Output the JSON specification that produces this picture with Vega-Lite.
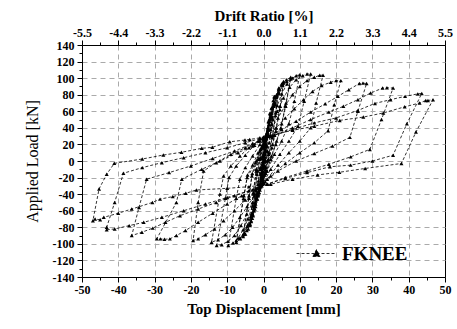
{
  "$schema": "https://vega.github.io/schema/vega-lite/v6.json",
  "width": 363,
  "height": 232,
  "autosize": {"type": "none"},
  "padding": {"left": 82, "top": 45, "right": 12, "bottom": 52},
  "background": "white",
  "config": {
    "view": {"stroke": "black", "strokeWidth": 1},
    "axis": {
      "labelFont": "Liberation Serif", "labelFontWeight": "bold", "labelFontSize": 12, "labelColor": "black",
      "titleFont": "Liberation Serif", "titleFontWeight": "bold", "titleFontSize": 16, "titleColor": "black",
      "domainColor": "black", "tickColor": "black", "gridColor": "#aaaaaa", "gridDash": [5, 4], "gridWidth": 1,
      "labelOverlap": false
    }
  },
  "resolve": {"scale": {"x": "independent"}, "axis": {"x": "independent"}},
  "layer": [
    {
      "data": {"name": "curve", "values": [
        {"disp":0,"load":0},
        {"disp":0.15,"load":6},{"disp":0.3,"load":12},{"disp":0.5,"load":18},{"disp":0.3,"load":9},{"disp":0,"load":0},{"disp":-0.2,"load":-7},{"disp":-0.35,"load":-12},{"disp":-0.5,"load":-16},{"disp":-0.3,"load":-7},{"disp":-0.05,"load":0},
        {"disp":0.2,"load":8},{"disp":0.4,"load":14},{"disp":0.55,"load":19},{"disp":0.35,"load":9},{"disp":0,"load":-1},{"disp":-0.25,"load":-9},{"disp":-0.5,"load":-17},{"disp":-0.3,"load":-8},{"disp":-0.05,"load":0},
        {"disp":0.2,"load":9},{"disp":0.5,"load":19},{"disp":0.8,"load":27},{"disp":1,"load":33},{"disp":0.75,"load":20},{"disp":0.4,"load":8},{"disp":0,"load":-4},{"disp":-0.4,"load":-13},{"disp":-0.7,"load":-21},{"disp":-1,"load":-28},{"disp":-0.75,"load":-16},{"disp":-0.4,"load":-5},
        {"disp":0.1,"load":6},{"disp":0.5,"load":20},{"disp":1,"load":32},{"disp":0.7,"load":18},{"disp":0.3,"load":5},{"disp":-0.2,"load":-8},{"disp":-0.6,"load":-19},{"disp":-1,"load":-29},{"disp":-0.7,"load":-15},{"disp":-0.3,"load":-4},
        {"disp":0.2,"load":10},{"disp":0.6,"load":24},{"disp":1,"load":35},{"disp":1.4,"load":48},{"disp":1.8,"load":58},{"disp":1.4,"load":38},{"disp":0.9,"load":18},{"disp":0.4,"load":2},{"disp":-0.2,"load":-12},{"disp":-0.7,"load":-24},{"disp":-1.2,"load":-33},{"disp":-1.6,"load":-40},{"disp":-1.9,"load":-45},{"disp":-1.5,"load":-28},{"disp":-1,"load":-10},
        {"disp":-0.4,"load":3},{"disp":0.3,"load":18},{"disp":0.9,"load":33},{"disp":1.4,"load":47},{"disp":1.8,"load":57},{"disp":1.3,"load":32},{"disp":0.7,"load":12},{"disp":0,"load":-8},{"disp":-0.6,"load":-22},{"disp":-1.2,"load":-34},{"disp":-1.9,"load":-44},{"disp":-1.4,"load":-24},{"disp":-0.9,"load":-8},
        {"disp":-0.3,"load":6},{"disp":0.4,"load":22},{"disp":1,"load":34},{"disp":1.6,"load":50},{"disp":2.2,"load":64},{"disp":2.7,"load":73},{"disp":3,"load":78},{"disp":2.4,"load":52},{"disp":1.8,"load":30},{"disp":1.1,"load":12},{"disp":0.4,"load":-6},{"disp":-0.3,"load":-20},{"disp":-0.9,"load":-30},{"disp":-1.5,"load":-38},{"disp":-2.1,"load":-48},{"disp":-2.6,"load":-57},{"disp":-3,"load":-65},{"disp":-2.4,"load":-40},{"disp":-1.8,"load":-16},
        {"disp":-1,"load":2},{"disp":0,"load":20},{"disp":0.8,"load":32},{"disp":1.6,"load":48},{"disp":2.3,"load":64},{"disp":3,"load":77},{"disp":2.3,"load":45},{"disp":1.6,"load":22},{"disp":0.6,"load":0},{"disp":-0.2,"load":-16},{"disp":-1,"load":-30},{"disp":-1.8,"load":-42},{"disp":-2.5,"load":-54},{"disp":-3,"load":-64},{"disp":-2.3,"load":-35},{"disp":-1.6,"load":-12},
        {"disp":-0.8,"load":4},{"disp":0,"load":18},{"disp":0.7,"load":28},{"disp":1.5,"load":44},{"disp":2.2,"load":58},{"disp":2.9,"load":70},{"disp":3.6,"load":80},{"disp":4.2,"load":88},{"disp":3.4,"load":58},{"disp":2.5,"load":30},{"disp":1.5,"load":10},{"disp":0.6,"load":-8},{"disp":-0.2,"load":-22},{"disp":-0.8,"load":-31},{"disp":-1.5,"load":-42},{"disp":-2.2,"load":-55},{"disp":-2.9,"load":-66},{"disp":-3.4,"load":-73},{"disp":-3.7,"load":-78},{"disp":-2.8,"load":-40},{"disp":-2,"load":-12},
        {"disp":-1.2,"load":2},{"disp":-0.4,"load":16},{"disp":0.4,"load":27},{"disp":1.2,"load":40},{"disp":2,"load":54},{"disp":2.8,"load":67},{"disp":3.5,"load":78},{"disp":4.2,"load":86},{"disp":3.3,"load":55},{"disp":2.4,"load":28},{"disp":1.4,"load":8},{"disp":0.5,"load":-10},{"disp":-0.3,"load":-24},{"disp":-1,"load":-35},{"disp":-1.7,"load":-46},{"disp":-2.4,"load":-58},{"disp":-3.1,"load":-69},{"disp":-3.7,"load":-76},{"disp":-2.8,"load":-38},{"disp":-2,"load":-10},
        {"disp":-1.2,"load":2},{"disp":-0.3,"load":16},{"disp":0.5,"load":26},{"disp":1.3,"load":38},{"disp":2,"load":52},{"disp":2.8,"load":66},{"disp":3.5,"load":77},{"disp":4.3,"load":87},{"disp":5,"load":93},{"disp":5.5,"load":96},{"disp":4.6,"load":66},{"disp":3.5,"load":40},{"disp":2.5,"load":20},{"disp":1.4,"load":2},{"disp":0.4,"load":-14},{"disp":-0.4,"load":-28},{"disp":-1.2,"load":-38},{"disp":-1.9,"load":-46},{"disp":-2.6,"load":-60},{"disp":-3.4,"load":-72},{"disp":-4.2,"load":-82},{"disp":-5,"load":-88},{"disp":-5.6,"load":-91},{"disp":-4,"load":-45},{"disp":-3.2,"load":-18},
        {"disp":-1.4,"load":3},{"disp":-0.5,"load":17},{"disp":0.4,"load":28},{"disp":1.2,"load":40},{"disp":2,"load":54},{"disp":2.8,"load":67},{"disp":3.6,"load":78},{"disp":4.4,"load":87},{"disp":5.1,"load":92},{"disp":5.5,"load":94},{"disp":4.5,"load":62},{"disp":3.4,"load":36},{"disp":2.3,"load":16},{"disp":1.2,"load":0},{"disp":0.2,"load":-17},{"disp":-0.6,"load":-30},{"disp":-1.4,"load":-40},{"disp":-2.2,"load":-52},{"disp":-3,"load":-65},{"disp":-3.8,"load":-76},{"disp":-4.6,"load":-84},{"disp":-5.2,"load":-88},{"disp":-5.6,"load":-89},{"disp":-4,"load":-42},{"disp":-3.1,"load":-15},
        {"disp":-2,"load":0},{"disp":-0.8,"load":14},{"disp":0.4,"load":26},{"disp":1.3,"load":38},{"disp":2.2,"load":55},{"disp":3.2,"load":70},{"disp":4.2,"load":83},{"disp":5.2,"load":93},{"disp":6.3,"load":98},{"disp":7.5,"load":101},{"disp":6.2,"load":70},{"disp":5,"load":45},{"disp":3.6,"load":24},{"disp":2.2,"load":6},{"disp":0.8,"load":-12},{"disp":-0.3,"load":-28},{"disp":-1.3,"load":-38},{"disp":-2.3,"load":-50},{"disp":-3.3,"load":-64},{"disp":-4.3,"load":-77},{"disp":-5.3,"load":-87},{"disp":-6.4,"load":-94},{"disp":-7.5,"load":-98},{"disp":-5.5,"load":-45},{"disp":-4.5,"load":-20},
        {"disp":-2.2,"load":-2},{"disp":-1,"load":12},{"disp":0.2,"load":25},{"disp":1.2,"load":37},{"disp":2.2,"load":53},{"disp":3.2,"load":68},{"disp":4.2,"load":81},{"disp":5.3,"load":91},{"disp":6.4,"load":96},{"disp":7.5,"load":99},{"disp":6.1,"load":66},{"disp":4.8,"load":40},{"disp":3.4,"load":20},{"disp":2,"load":2},{"disp":0.6,"load":-15},{"disp":-0.5,"load":-30},{"disp":-1.5,"load":-41},{"disp":-2.5,"load":-54},{"disp":-3.5,"load":-67},{"disp":-4.5,"load":-79},{"disp":-5.5,"load":-88},{"disp":-6.5,"load":-93},{"disp":-7.5,"load":-96},{"disp":-5.4,"load":-42},{"disp":-4.4,"load":-17},
        {"disp":-3,"load":-5},{"disp":-1.5,"load":10},{"disp":0,"load":24},{"disp":1.2,"load":34},{"disp":2.5,"load":50},{"disp":3.8,"load":67},{"disp":5,"load":81},{"disp":6.5,"load":93},{"disp":8,"load":100},{"disp":9,"load":103},{"disp":10,"load":104},{"disp":8.5,"load":72},{"disp":7,"load":45},{"disp":5,"load":24},{"disp":3,"load":8},{"disp":1,"load":-12},{"disp":-0.5,"load":-28},{"disp":-1.8,"load":-40},{"disp":-3,"load":-54},{"disp":-4.3,"load":-70},{"disp":-5.6,"load":-83},{"disp":-7,"load":-93},{"disp":-8.4,"load":-99},{"disp":-9.7,"load":-102},{"disp":-7.5,"load":-45},{"disp":-6.5,"load":-22},
        {"disp":-5,"load":-8},{"disp":-3,"load":6},{"disp":-1,"load":20},{"disp":0.6,"load":30},{"disp":2.2,"load":44},{"disp":3.8,"load":60},{"disp":5.5,"load":76},{"disp":7.2,"load":89},{"disp":9,"load":98},{"disp":10.8,"load":103},{"disp":12,"load":105},{"disp":13,"load":105},{"disp":11.2,"load":72},{"disp":9.5,"load":42},{"disp":7,"load":24},{"disp":4.5,"load":8},{"disp":2,"load":-10},{"disp":0,"load":-26},{"disp":-1.5,"load":-38},{"disp":-3,"load":-50},{"disp":-4.6,"load":-64},{"disp":-6.2,"load":-78},{"disp":-8,"load":-90},{"disp":-9.8,"load":-97},{"disp":-11.5,"load":-101},{"disp":-12.9,"load":-102},{"disp":-10.5,"load":-45},{"disp":-9.5,"load":-20},
        {"disp":-7.5,"load":-6},{"disp":-5,"load":7},{"disp":-2.5,"load":19},{"disp":0,"load":29},{"disp":2,"load":38},{"disp":4,"load":52},{"disp":6,"load":67},{"disp":8,"load":80},{"disp":10,"load":90},{"disp":12,"load":97},{"disp":14,"load":101},{"disp":15.5,"load":103.5},{"disp":16.4,"load":103.5},{"disp":14.5,"load":70},{"disp":13,"load":40},{"disp":10,"load":24},{"disp":7,"load":10},{"disp":4,"load":-5},{"disp":1,"load":-22},{"disp":-1,"load":-32},{"disp":-2.5,"load":-42},{"disp":-4.5,"load":-55},{"disp":-6.5,"load":-68},{"disp":-8.5,"load":-80},{"disp":-10.5,"load":-89},{"disp":-12.5,"load":-95},{"disp":-14.3,"load":-98},{"disp":-12,"load":-40},{"disp":-11,"load":-18},
        {"disp":-9,"load":-6},{"disp":-6.5,"load":6},{"disp":-4,"load":16},{"disp":-1.5,"load":24},{"disp":1,"load":30},{"disp":3.5,"load":40},{"disp":6,"load":52},{"disp":8.5,"load":63},{"disp":11,"load":74},{"disp":13.5,"load":84},{"disp":16,"load":91},{"disp":18.5,"load":95},{"disp":20,"load":97},{"disp":21.3,"load":97},{"disp":19.5,"load":68},{"disp":17.8,"load":36.5},{"disp":14,"load":22},{"disp":10,"load":10},{"disp":6,"load":-3},{"disp":2,"load":-18},{"disp":0,"load":-27},{"disp":-2,"load":-36},{"disp":-5,"load":-47},{"disp":-8,"load":-60},{"disp":-11,"load":-72},{"disp":-13.5,"load":-82},{"disp":-16,"load":-89},{"disp":-18,"load":-94},{"disp":-19.4,"load":-96},{"disp":-18,"load":-50},{"disp":-16.5,"load":-12},
        {"disp":-13,"load":-2},{"disp":-9,"load":8},{"disp":-5,"load":16},{"disp":-1,"load":24},{"disp":1.5,"load":30},{"disp":5,"load":38},{"disp":9,"load":48},{"disp":13,"load":59},{"disp":17,"load":69},{"disp":20.5,"load":78},{"disp":23.5,"load":86},{"disp":26.4,"load":93.5},{"disp":27.4,"load":94},{"disp":28.4,"load":93.5},{"disp":26,"load":60},{"disp":23.8,"load":28.5},{"disp":19,"load":18},{"disp":14,"load":9},{"disp":9,"load":0},{"disp":4,"load":-12},{"disp":0.5,"load":-25},{"disp":-2,"load":-33},{"disp":-6,"load":-42},{"disp":-10,"load":-52},{"disp":-14,"load":-63},{"disp":-18,"load":-74},{"disp":-21.5,"load":-84},{"disp":-24,"load":-90},{"disp":-25.8,"load":-94},{"disp":-27.3,"load":-94.5},{"disp":-28.4,"load":-94},{"disp":-29.4,"load":-94},{"disp":-24,"load":-50},{"disp":-22.5,"load":-22},
        {"disp":-17,"load":-10},{"disp":-12,"load":0},{"disp":-7,"load":10},{"disp":-3,"load":18},{"disp":0,"load":26},{"disp":3,"load":31},{"disp":8,"load":40},{"disp":13,"load":50},{"disp":18,"load":59},{"disp":22,"load":66},{"disp":26,"load":74},{"disp":29.5,"load":82},{"disp":32.8,"load":88},{"disp":34,"load":88.5},{"disp":35.7,"load":88},{"disp":32.5,"load":50},{"disp":29.3,"load":14},{"disp":24,"load":5},{"disp":18,"load":-4},{"disp":12,"load":-12},{"disp":6,"load":-20},{"disp":1,"load":-28},{"disp":-3,"load":-35},{"disp":-8,"load":-42},{"disp":-13,"load":-50},{"disp":-18,"load":-58},{"disp":-23,"load":-66},{"disp":-27,"load":-74},{"disp":-30.5,"load":-81},{"disp":-33.5,"load":-86},{"disp":-36.3,"load":-90},{"disp":-34.3,"load":-56},{"disp":-32.2,"load":-22},
        {"disp":-26,"load":-14},{"disp":-20,"load":-6},{"disp":-14,"load":3},{"disp":-8,"load":12},{"disp":-3,"load":21},{"disp":0,"load":27},{"disp":3,"load":31},{"disp":8,"load":38},{"disp":14,"load":46},{"disp":20,"load":52},{"disp":26,"load":61},{"disp":30.7,"load":69.5},{"disp":35,"load":74},{"disp":39,"load":78},{"disp":42.5,"load":81},{"disp":43.6,"load":81.5},{"disp":39.5,"load":45},{"disp":35.7,"load":7},{"disp":30,"load":0},{"disp":24,"load":-5},{"disp":18.3,"load":-7},{"disp":12,"load":-14},{"disp":6,"load":-21},{"disp":1,"load":-28},{"disp":-4,"load":-36},{"disp":-10,"load":-44},{"disp":-16,"load":-52},{"disp":-22,"load":-60},{"disp":-28,"load":-68},{"disp":-33,"load":-74},{"disp":-37,"load":-78},{"disp":-41,"load":-82},{"disp":-43.2,"load":-83},{"disp":-43.2,"load":-80},{"disp":-41,"load":-50},{"disp":-38.6,"load":-14.8},
        {"disp":-33.4,"load":-8},{"disp":-28,"load":-2},{"disp":-22,"load":4},{"disp":-16,"load":10},{"disp":-10,"load":16},{"disp":-5,"load":22},{"disp":-1,"load":27},{"disp":2,"load":31},{"disp":8,"load":37},{"disp":14,"load":42},{"disp":21,"load":49},{"disp":27.5,"load":53},{"disp":33,"load":58},{"disp":38.9,"load":65.4},{"disp":43,"load":70},{"disp":44.7,"load":73},{"disp":45.3,"load":73},{"disp":46.7,"load":74},{"disp":42,"load":35},{"disp":38,"load":-3},{"disp":28,"load":-9},{"disp":20.9,"load":-13.6},{"disp":14.9,"load":-16.8},{"disp":8,"load":-22},{"disp":2,"load":-28},{"disp":-4,"load":-31},{"disp":-10,"load":-33},{"disp":-18.5,"load":-35},{"disp":-21.4,"load":-39},{"disp":-25,"load":-43},{"disp":-28.5,"load":-46},{"disp":-30.6,"load":-50},{"disp":-36.3,"load":-58},{"disp":-40,"load":-63},{"disp":-44,"load":-68},{"disp":-45,"load":-71},{"disp":-46.4,"load":-70},{"disp":-47,"load":-72},{"disp":-45.3,"load":-33.7},{"disp":-43.2,"load":-16},{"disp":-41.1,"load":-2.8},
        {"disp":-33.4,"load":2.4},{"disp":-27.6,"load":7.2},{"disp":-22.6,"load":10.5},{"disp":-17,"load":15.3},{"disp":-14.1,"load":16.5},{"disp":-9.3,"load":23.2},{"disp":-5.1,"load":25.3},{"disp":-3.8,"load":26},{"disp":-1,"load":28},{"disp":1,"load":30}
      ]},
      "encoding": {
        "x": {"field": "disp", "type": "quantitative",
          "scale": {"domain": [-50, 50], "nice": false},
          "axis": {
            "title": "Top Displacement [mm]", "orient": "bottom",
            "titleFont": "Liberation Serif", "titleFontWeight": "bold", "titleFontSize": 15,
            "labelFont": "Liberation Serif", "labelFontWeight": "bold", "labelFontSize": 12,
            "labelOverlap": false,
            "values": [-50,-45,-40,-35,-30,-25,-20,-15,-10,-5,0,5,10,15,20,25,30,35,40,45,50],
            "labelExpr": "datum.value % 10 === 0 ? replace(datum.label, '\u2212', '-') : ''",
            "tickSize": {"condition": {"test": "datum.value % 10 === 0", "value": 5}, "value": 3},
            "gridOpacity": {"condition": {"test": "datum.value % 10 === 0 && datum.value !== -50 && datum.value !== 50", "value": 1}, "value": 0},
            "grid": true, "labelPadding": 2, "titlePadding": 6, "labelFlush": false
          }
        },
        "y": {"field": "load", "type": "quantitative",
          "scale": {"domain": [-140, 140], "nice": false},
          "axis": {
            "title": "Applied Load [kN]",
            "titleFont": "Liberation Serif", "titleFontWeight": "normal", "titleFontSize": 16,
            "labelFont": "Liberation Serif", "labelFontWeight": "bold", "labelFontSize": 12,
            "labelOverlap": false,
            "values": [-140,-130,-120,-110,-100,-90,-80,-70,-60,-50,-40,-30,-20,-10,0,10,20,30,40,50,60,70,80,90,100,110,120,130,140],
            "labelExpr": "datum.value % 20 === 0 ? replace(datum.label, '\u2212', '-') : ''",
            "tickSize": {"condition": {"test": "datum.value % 20 === 0", "value": 5}, "value": 3},
            "gridOpacity": {"condition": {"test": "datum.value % 20 === 0 && abs(datum.value) !== 140", "value": 1}, "value": 0},
            "grid": true, "labelPadding": 3, "titlePadding": 12, "labelFlush": false
          }
        },
        "color": {"datum": "FKNEE", "type": "nominal", "scale": {"range": ["black"]},
          "legend": {
            "title": null, "orient": "none", "legendX": 214, "legendY": 188, "padding": 0,
            "symbolType": "M-1,0H1M-0.18,0.15L0,-0.2L0.18,0.15Z",
            "symbolSize": 1600, "symbolStrokeWidth": 0.8, "symbolDash": [3, 2],
            "symbolFillColor": "black", "symbolStrokeColor": "black",
            "labelFont": "Liberation Serif", "labelFontWeight": "bold", "labelFontSize": 19, "labelColor": "black", "labelOffset": 5
          }
        }
      },
      "layer": [
        {
          "mark": {"type": "line", "strokeDash": [3, 2], "strokeWidth": 0.8},
          "encoding": {"order": {"value": null}}
        },
        {
          "mark": {"type": "point", "shape": "triangle-up", "filled": true, "size": 16, "opacity": 1}
        }
      ]
    },
    {
      "data": {"values": [{}]},
      "mark": {"type": "point", "opacity": 0},
      "encoding": {
        "x": {"datum": 0, "type": "quantitative",
          "scale": {"domain": [-5.5, 5.5], "nice": false},
          "axis": {
            "orient": "top", "title": "Drift Ratio [%]", "grid": false,
            "titleFont": "Liberation Serif", "titleFontWeight": "bold", "titleFontSize": 15,
            "labelFont": "Liberation Serif", "labelFontWeight": "bold", "labelFontSize": 12,
            "labelOverlap": false,
            "values": [-5.5,-4.95,-4.4,-3.85,-3.3,-2.75,-2.2,-1.65,-1.1,-0.55,0,0.55,1.1,1.65,2.2,2.75,3.3,3.85,4.4,4.95,5.5],
            "labelExpr": "round(datum.value*100) % 110 === 0 ? replace(format(datum.value, '.1f'), '\u2212', '-') : ''",
            "tickSize": {"condition": {"test": "round(datum.value*100) % 110 === 0", "value": 5}, "value": 3},
            "labelPadding": 1, "titlePadding": 3, "labelFlush": false
          }
        }
      }
    }
  ]
}
